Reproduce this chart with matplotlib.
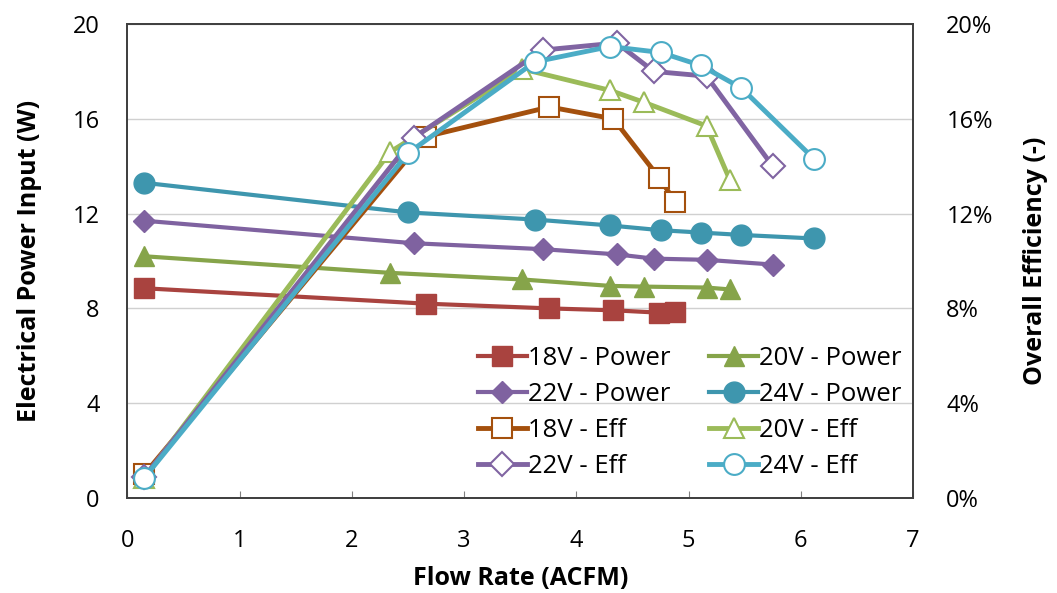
import numpy as np
import matplotlib.pyplot as plt
from matplotlib.ticker import FuncFormatter

plt.rcParams['font.family'] = ['Open Sans', 'DejaVu Sans']

# power input (W) and efficiency (%) vs flow rate (ACFM)
x18 = [0.15, 2.66, 3.76, 4.33, 4.74, 4.88]
p18 = [8.85, 8.2, 8.0, 7.92, 7.82, 7.85]
e18 = [1.0, 15.25, 16.5, 16.0, 13.5, 12.5]

x20 = [0.15, 2.34, 3.52, 4.30, 4.60, 5.16, 5.37]
p20 = [10.2, 9.5, 9.22, 8.95, 8.92, 8.88, 8.8]
e20 = [0.85, 14.6, 18.1, 17.2, 16.7, 15.7, 13.4]

x22 = [0.15, 2.55, 3.70, 4.36, 4.69, 5.16, 5.75]
p22 = [11.7, 10.75, 10.5, 10.28, 10.1, 10.05, 9.85]
e22 = [0.9, 15.2, 18.9, 19.2, 18.0, 17.8, 14.0]

x24 = [0.15, 2.50, 3.63, 4.30, 4.75, 5.11, 5.47, 6.12]
p24 = [13.3, 12.05, 11.75, 11.5, 11.3, 11.2, 11.1, 10.95]
e24 = [0.85, 14.55, 18.4, 19.05, 18.8, 18.25, 17.3, 14.3]

fig = plt.figure(figsize=(10.57, 5.93), dpi=100)
ax = fig.add_axes([0.1206, 0.1602, 0.8638 - 0.1206, 0.9595 - 0.1602])
ax2 = ax.twinx()

h = []
h += ax.plot(x18, p18, color='#A9433F', lw=3, marker='s', ms=14, label='18V - Power')
h += ax.plot(x22, p22, color='#7F62A0', lw=3, marker='D', ms=11.5, label='22V - Power')
h += ax.plot(x20, p20, color='#86A44A', lw=3, marker='^', ms=15, label='20V - Power')
h += ax.plot(x24, p24, color='#3E96AE', lw=3, marker='o', ms=15, label='24V - Power')

eff = [
    (x18, e18, '#A4500D', 's', 14, '18V - Eff'),
    (x20, e20, '#9BBB59', '^', 15, '20V - Eff'),
    (x22, e22, '#8064A2', 'D', 12, '22V - Eff'),
    (x24, e24, '#4BACC6', 'o', 15, '24V - Eff'),
]
for xs, ys, c, m, ms, lab in eff:
    h += ax2.plot(xs, np.array(ys) / 100, color=c, lw=3.5, marker=m, ms=ms,
                  mfc='white', mec=c, mew=1.5, label=lab)

ax.set_xlim(0, 7)
ax.set_ylim(0, 20)
ax2.set_ylim(0, 0.2)
ax.set_xticks(range(0, 8))
ax.set_yticks(range(0, 21, 4))
ax2.set_yticks(np.arange(0, 0.21, 0.04))
ax2.yaxis.set_major_formatter(FuncFormatter(lambda v, p: f'{v * 100:.0f}%'))

ax.grid(axis='y', color='#D0D0D0', lw=1)
ax.set_axisbelow(True)
ax.tick_params(axis='x', direction='in', length=5, labelsize=17, pad=22, color='#808080')
ax.tick_params(axis='y', length=0, labelsize=17, pad=20)
ax2.tick_params(axis='y', length=0, labelsize=17, pad=24)
for a in (ax, ax2):
    for s in a.spines.values():
        s.set_color('#404040')
        s.set_linewidth(1.3)

ax.set_xlabel('Flow Rate (ACFM)', fontsize=18, fontweight='bold', labelpad=10)
ax.set_ylabel('Electrical Power Input (W)', fontsize=18, fontweight='bold', labelpad=22)
ax2.set_ylabel('Overall Efficiency (-)', fontsize=18, fontweight='bold', labelpad=22)

idx = [0, 1, 4, 6, 2, 3, 5, 7]
ax2.legend([h[i] for i in idx], [h[i].get_label() for i in idx],
           ncol=2, loc='lower right', bbox_to_anchor=(1.015, -0.008),
           frameon=False, fontsize=18.5, handlelength=1.9,
           handletextpad=0.05, columnspacing=1.5, labelspacing=0.42)

fig.savefig('out.png', dpi=100)
